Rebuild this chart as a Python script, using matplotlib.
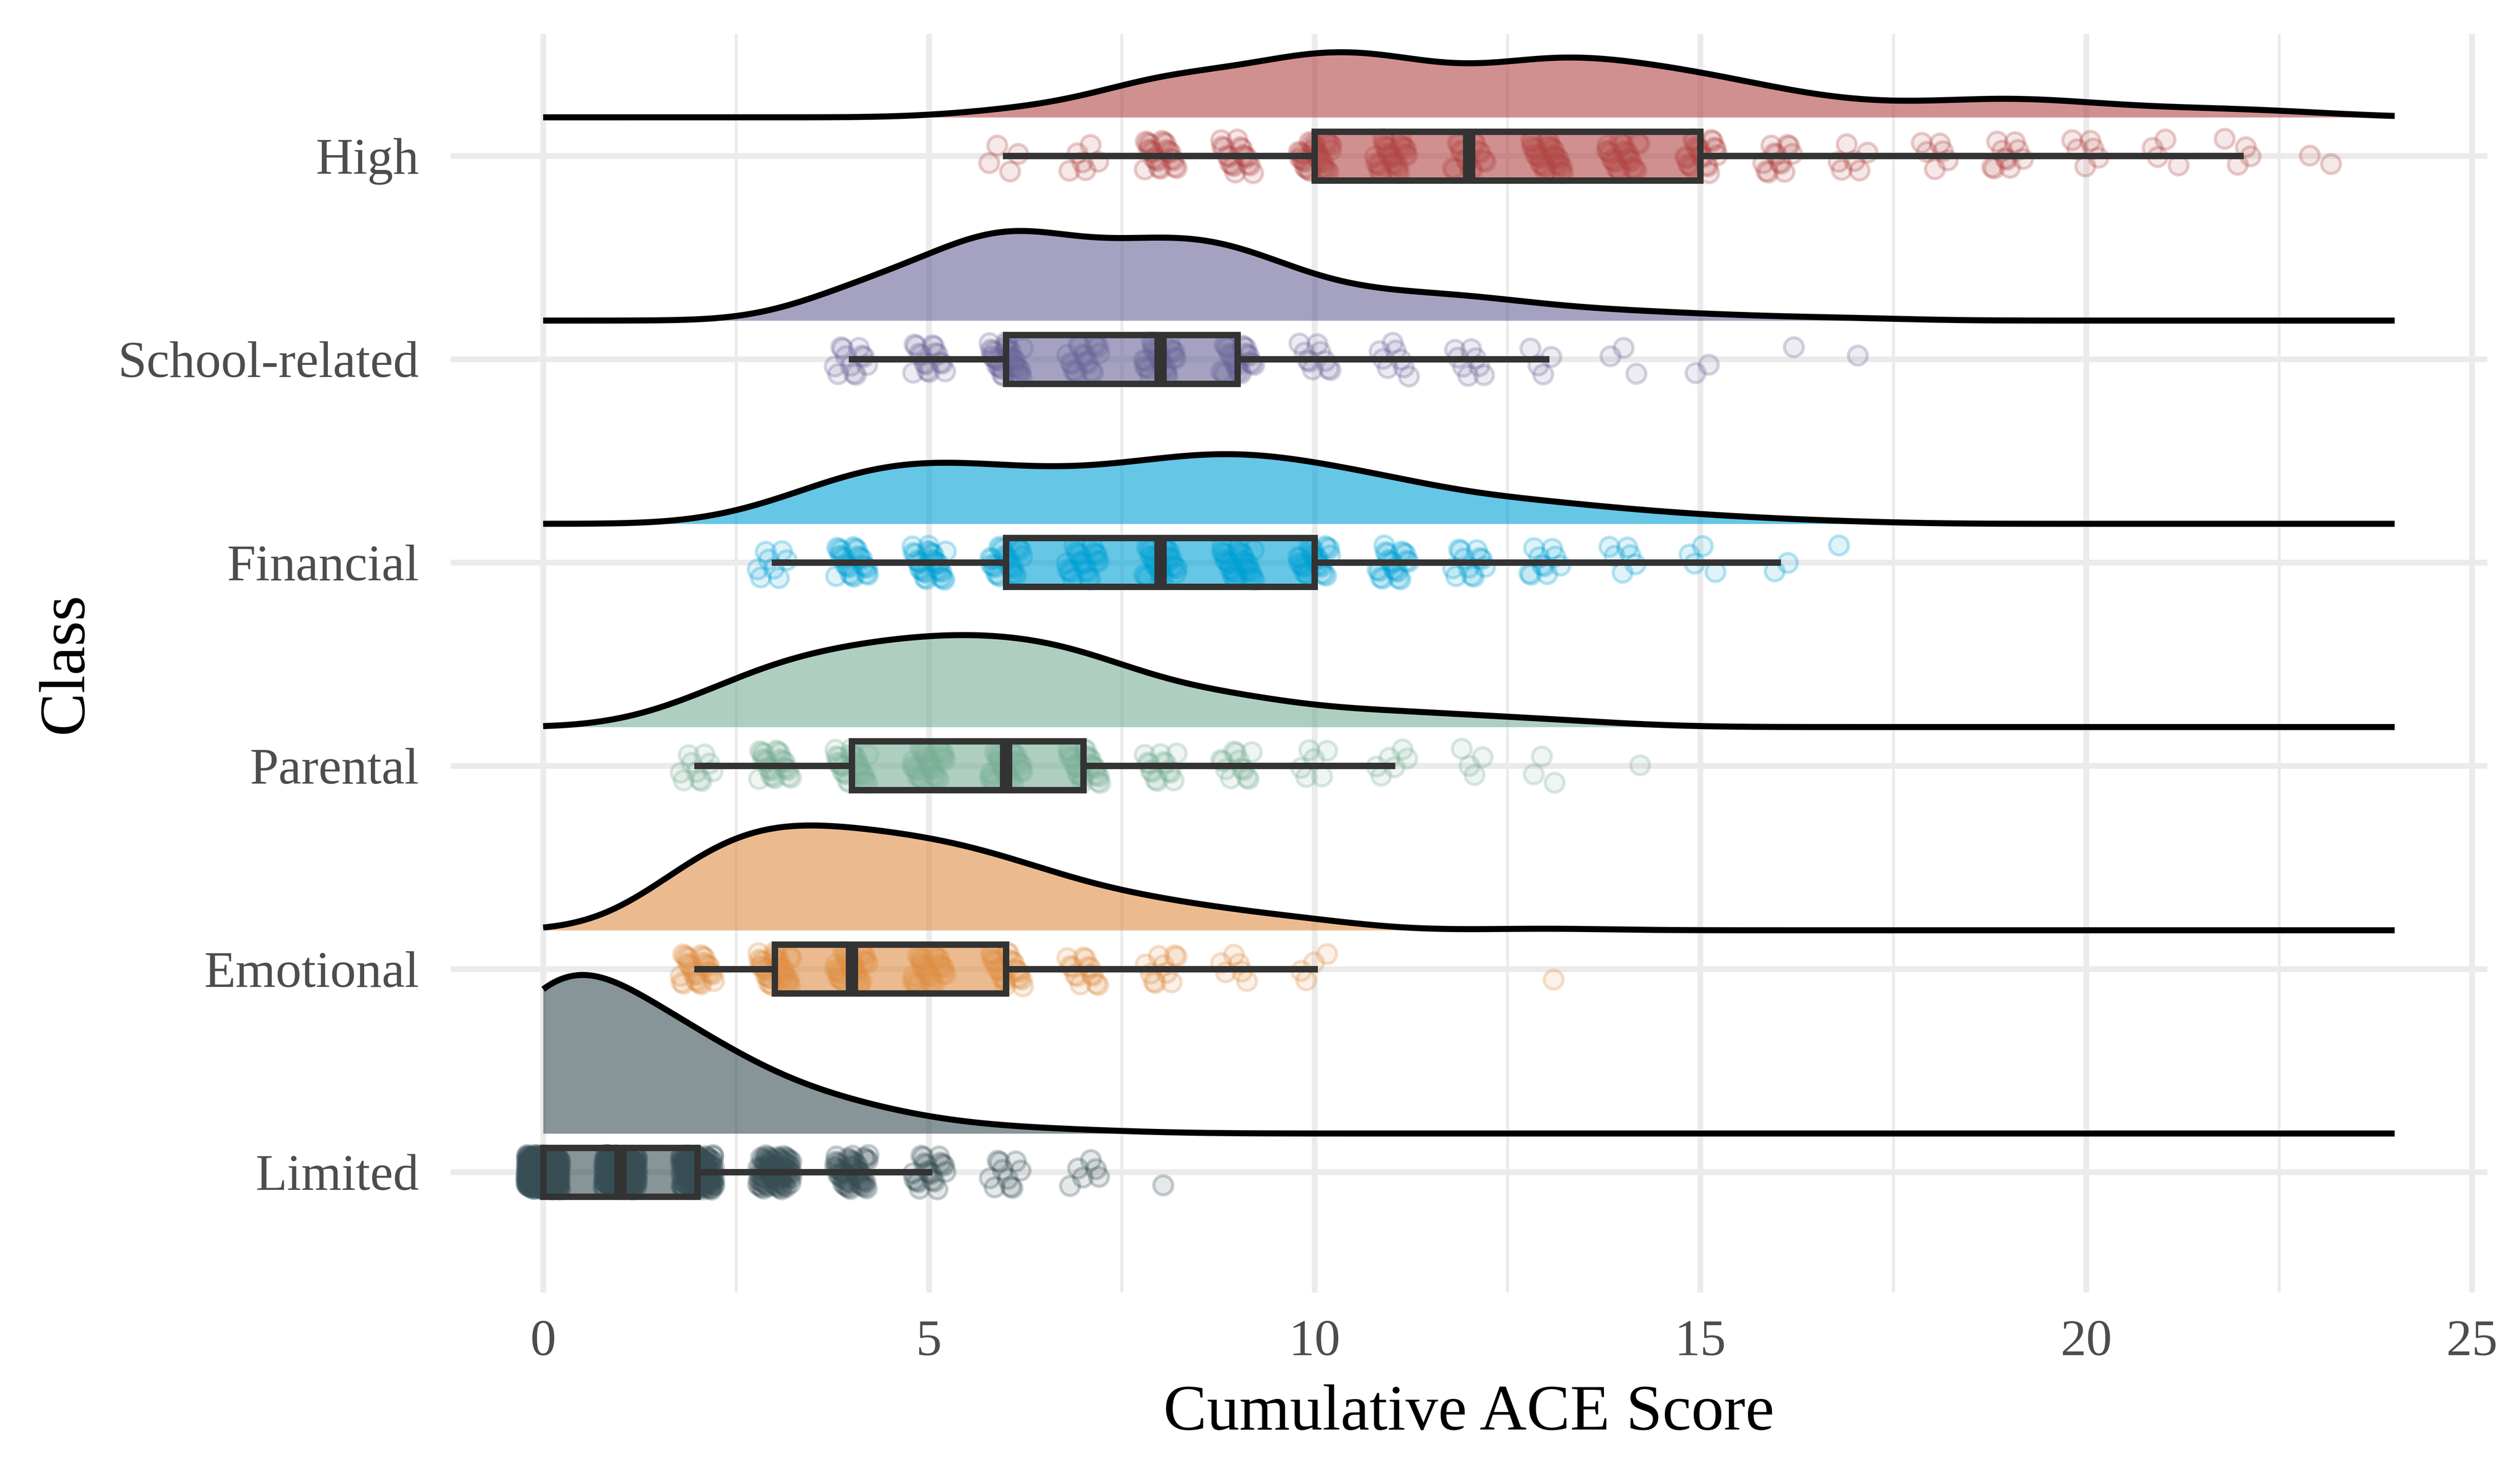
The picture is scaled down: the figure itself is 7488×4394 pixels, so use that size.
import numpy as np
import matplotlib
matplotlib.use('Agg')
import matplotlib.pyplot as plt

plt.rcParams['font.family'] = ['Liberation Serif', 'DejaVu Serif']

# classes from bottom to top
classes = ['Limited', 'Emotional', 'Parental', 'Financial', 'School-related', 'High']
colors = ['#374E55', '#DF8F44', '#79AF97', '#00A1D5', '#6A6599', '#B24745']

# cumulative ACE score -> number of people
limited_scores = [0, 1, 2, 3, 4, 5, 6, 7, 8]
limited_counts = [340, 220, 160, 80, 50, 20, 10, 6, 1]

emotional_scores = [2, 3, 4, 5, 6, 7, 8, 9, 10, 13]
emotional_counts = [28, 36, 32, 30, 24, 14, 10, 6, 4, 1]

parental_scores = [2, 3, 4, 5, 6, 7, 8, 9, 10, 11, 12, 13, 14]
parental_counts = [10, 24, 28, 32, 32, 28, 14, 12, 6, 6, 4, 3, 1]

financial_scores = [3, 4, 5, 6, 7, 8, 9, 10, 11, 12, 13, 14, 15, 16, 17]
financial_counts = [8, 24, 28, 24, 22, 28, 32, 26, 20, 12, 10, 6, 4, 2, 1]

school_scores = [4, 5, 6, 7, 8, 9, 10, 11, 12, 13, 14, 15, 16, 17]
school_counts = [12, 16, 34, 18, 26, 24, 10, 8, 8, 4, 3, 2, 1, 1]

high_scores = [6, 7, 8, 9, 10, 11, 12, 13, 14, 15, 16, 17, 18, 19, 20, 21, 22, 23]
high_counts = [4, 6, 22, 18, 32, 28, 16, 30, 24, 20, 12, 6, 6, 10, 6, 4, 4, 2]

score_lists = [limited_scores, emotional_scores, parental_scores,
               financial_scores, school_scores, high_scores]
count_lists = [limited_counts, emotional_counts, parental_counts,
               financial_counts, school_counts, high_counts]

data = [np.repeat(s, c).astype(float) for s, c in zip(score_lists, count_lists)]

# density (gaussian kde) on the whole score range
grid = np.linspace(0, 24, 600)
bw = 0.85
dens = []
for v in data:
    z = (grid[:, None] - v[None, :]) / bw
    d = np.exp(-0.5 * z ** 2).sum(axis=1) / (len(v) * bw * np.sqrt(2 * np.pi))
    dens.append(d)
scale = 0.78 / max(d.max() for d in dens)

fig = plt.figure(figsize=(15.6, 9.1542), dpi=480)
ax = fig.add_axes([0.1788, 0.126, 0.987 - 0.1788, 0.977 - 0.126])

for i, (v, d, col) in enumerate(zip(data, dens, colors)):
    y0 = i + 1
    base = y0 + 0.19
    ax.fill_between(grid, base, base + d * scale, color=col, alpha=0.6, lw=0, zorder=2)
    ax.plot(grid, base + d * scale, color='black', lw=2.7, zorder=3,
            solid_capstyle='butt')

    # jittered points (deterministic jitter)
    idx = np.arange(len(v))
    jx = ((idx * 0.6180339887) % 1 - 0.5) * 0.44
    jy = ((idx * 0.7548776662 + 0.3) % 1 - 0.5) * 0.17
    ax.scatter(v + jx, y0 + jy, s=72, facecolor=matplotlib.colors.to_rgba(col, 0.12),
               edgecolor=matplotlib.colors.to_rgba(col, 0.27), linewidth=1.4, zorder=4)

    ax.boxplot(v, positions=[y0], vert=False, widths=0.24, whis=1.5,
               showfliers=False, showcaps=False, patch_artist=True,
               boxprops=dict(facecolor=matplotlib.colors.to_rgba(col, 0.6),
                             edgecolor='#333333', linewidth=2.85),
               whiskerprops=dict(color='#333333', linewidth=2.85),
               medianprops=dict(color='#333333', linewidth=5.5),
               zorder=5)

ax.set_xlim(-1.2, 25.2)
ax.set_ylim(0.407, 6.6)
ax.set_xticks([0, 5, 10, 15, 20, 25])
ax.set_xticklabels(['0', '5', '10', '15', '20', '25'])
ax.set_xticks([2.5, 7.5, 12.5, 17.5, 22.5], minor=True)
ax.set_yticks(range(1, 7))
ax.set_yticklabels(classes)

ax.grid(True, which='major', color='#EBEBEB', lw=2.6, zorder=0)
ax.grid(True, which='minor', axis='x', color='#EBEBEB', lw=1.3, zorder=0)
ax.set_axisbelow(True)
for s in ax.spines.values():
    s.set_visible(False)
ax.tick_params(which='both', length=0)
ax.tick_params(axis='x', labelsize=23, labelcolor='#4D4D4D', pad=12)
ax.tick_params(axis='y', labelsize=23, labelcolor='#4D4D4D', pad=14)

ax.set_xlabel('Cumulative ACE Score', fontsize=29, labelpad=8)
ax.set_ylabel('Class', fontsize=29, labelpad=10)

fig.savefig('out.png', dpi=480, facecolor='white')
